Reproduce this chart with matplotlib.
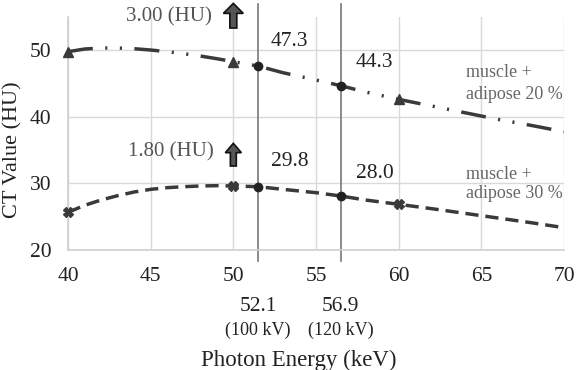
import matplotlib
matplotlib.use('Agg')
import matplotlib.pyplot as plt
from matplotlib.patches import FancyArrow

plt.rcParams['font.family'] = ['Liberation Serif', 'DejaVu Serif']

# 曲线数据
energy = [40, 41, 42, 43, 44, 45, 46, 47, 48, 49, 50, 51.5, 53, 55, 56.5, 58, 60, 62, 64, 66, 68, 70]
ct_20 = [49.75, 50.15, 50.3, 50.3, 50.2, 50.0, 49.75, 49.45, 49.1, 48.7, 48.25, 47.6, 46.6, 45.5,
         44.65, 43.7, 42.6, 41.6, 40.6, 39.6, 38.7, 37.75]
ct_30 = [25.65, 26.7, 27.5, 28.15, 28.7, 29.1, 29.35, 29.5, 29.6, 29.65, 29.6, 29.5, 29.1, 28.6,
         28.1, 27.5, 26.85, 26.2, 25.5, 24.8, 24.1, 23.35]

# 标记点
mark_x = [40, 50, 60]
mark_20 = [49.75, 48.25, 42.6]
mark_30 = [25.65, 29.6, 26.85]

# 有效能量位置
eff_x = [51.5, 56.5]
eff_20 = [47.6, 44.65]
eff_30 = [29.5, 28.1]
eff_labels_20 = ['47.3', '44.3']
eff_labels_30 = ['29.8', '28.0']
eff_energy = ['52.1', '56.9']
eff_kv = ['(100 kV)', '(120 kV)']

xticks = [40, 45, 50, 55, 60, 65, 70]
yticks = [20, 30, 40, 50]

line_c = '#3a3a3a'

fig = plt.figure(figsize=(5.79, 3.70), dpi=100)
ax = fig.add_axes([68 / 579, 1 - 250 / 370, (564 - 68) / 579, (250 - 16.7) / 370])

ax.set_xlim(40, 70)
ax.set_ylim(20, 55)
ax.set_xticks(xticks)
ax.set_yticks(yticks)
ax.grid(True, color='#d9d9d9', lw=1)
ax.set_axisbelow(True)
for s in ['top', 'right']:
    ax.spines[s].set_visible(False)
for s in ['left', 'bottom']:
    ax.spines[s].set_color('#d0d0d0')
    ax.spines[s].set_linewidth(1.2)
ax.tick_params(length=0, pad=12, labelsize=15.5, labelcolor='#222222')

# 竖线
for x in eff_x:
    ax.plot([x, x], [18.4, 56.9], color='#777777', lw=1.2, clip_on=False, zorder=2)

# 曲线
l1, = ax.plot(energy, ct_20, color=line_c, lw=2.5, zorder=3)
l1.set_dashes([7.2, 3.6, 0.6, 3.6, 0.6, 3.6])
l2, = ax.plot(energy, ct_30, color=line_c, lw=2.5, zorder=3)
l2.set_dashes([3.8, 2.0])

ax.plot(mark_x, mark_20, '^', color=line_c, ms=7.5, zorder=4, clip_on=False)
ax.plot(mark_x, mark_30, 'X', color=line_c, ms=6.5, zorder=4, clip_on=False)
ax.plot(eff_x, eff_20, 'o', color='#222222', ms=6, zorder=5)
ax.plot(eff_x, eff_30, 'o', color='#222222', ms=6, zorder=5)

# 数值标注
ax.text(52.25, 51.3, eff_labels_20[0], fontsize=15.5, va='center', color='#222222')
ax.text(57.4, 48.1, eff_labels_20[1], fontsize=15.5, va='center', color='#222222')
ax.text(52.25, 33.3, eff_labels_30[0], fontsize=15.5, va='center', color='#222222')
ax.text(57.4, 31.5, eff_labels_30[1], fontsize=15.5, va='center', color='#222222')

ax.text(64.05, 46.7, 'muscle +', fontsize=13, va='center', color='#666666')
ax.text(64.05, 43.4, 'adipose 20 %', fontsize=13, va='center', color='#666666')
ax.text(64.05, 31.4, 'muscle +', fontsize=13, va='center', color='#666666')
ax.text(64.05, 28.5, 'adipose 30 %', fontsize=13, va='center', color='#666666')

ax.text(48.7, 54.95, '3.00 (HU)', fontsize=15, ha='right', va='center', color='#555555', clip_on=False)
ax.text(48.8, 34.7, '1.80 (HU)', fontsize=15, ha='right', va='center', color='#555555')

ax.add_patch(FancyArrow(50.0, 53.3, 0, 3.7, width=0.42, head_width=1.2, head_length=1.5,
                        length_includes_head=True, fc='#555555', ec='#111111', lw=1.2,
                        clip_on=False, zorder=6))
ax.add_patch(FancyArrow(50.0, 32.6, 0, 3.4, width=0.36, head_width=0.97, head_length=1.4,
                        length_includes_head=True, fc='#555555', ec='#111111', lw=1.2,
                        clip_on=False, zorder=6))

# 下方标签
for x, e, kv in zip(eff_x, eff_energy, eff_kv):
    ax.text(x, 11.45, e, fontsize=15.5, ha='center', va='center', color='#222222', clip_on=False)
    ax.text(x, 8.0, kv, fontsize=13, ha='center', va='center', color='#222222', clip_on=False)

ax.text(53.95, 3.4, 'Photon Energy (keV)', fontsize=16.5, ha='center', va='center',
        color='#222222', clip_on=False)
fig.text(13 / 579, 1 - 150 / 370, 'CT Value (HU)', fontsize=16, rotation=90,
         ha='center', va='center', color='#222222')

fig.savefig('out.png', dpi=100)
